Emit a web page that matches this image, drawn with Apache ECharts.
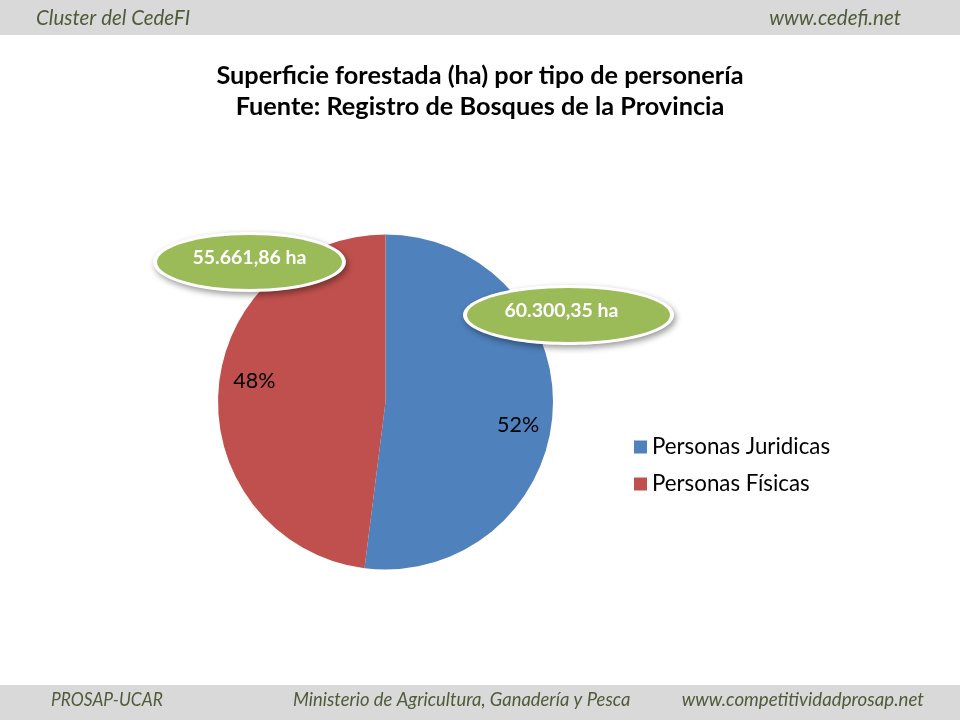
<!DOCTYPE html>
<html>
<head>
<meta charset="utf-8">
<style>html,body{margin:0;padding:0;background:#fff}#c{width:960px;height:720px}</style>
<script src="https://cdn.jsdelivr.net/npm/echarts@6/dist/echarts.min.js"></script>
</head>
<body>
<div id="c"></div>
<script>
const categories = ['Personas Juridicas', 'Personas Físicas'];
const hectares = [60300.35, 55661.86];
const hectareLabels = ['60.300,35 ha', '55.661,86 ha'];
const colors = ['#4F81BD', '#C0504D'];
const titleLines = ['Superficie forestada (ha) por tipo de personería', 'Fuente: Registro de Bosques de la Provincia'];
const headerLeft = 'Cluster del CedeFI', headerRight = 'www.cedefi.net';
const footerTexts = ['PROSAP-UCAR', 'Ministerio de Agricultura, Ganadería y Pesca', 'www.competitividadprosap.net'];

const font = 'Lato';
const chrome = '#4F5B3A';
function bar(y, h) {
  return {type:'rect', z:0, silent:true, shape:{x:0,y:y,width:960,height:h}, style:{fill:'#D9D9D9'}};
}
function note(x, y, text, align, size, scaleX) {
  return {type:'text', z:5, silent:true, x:x, y:y, scaleX:scaleX||1,
    style:{text:text, fill:chrome, font:'italic '+size+'px '+font, textAlign:align, textVerticalAlign:'middle'}};
}
function bubble(cx, cy, rx, ry, tx, ty, text) {
  return {type:'group', z:20, silent:true, children:[
    {type:'ellipse', z:20, shape:{cx:cx,cy:cy,rx:rx+4,ry:ry+3},
     style:{fill:'#fff', shadowBlur:6, shadowColor:'rgba(0,0,0,0.4)', shadowOffsetX:2, shadowOffsetY:3}},
    {type:'ellipse', z:21, shape:{cx:cx,cy:cy,rx:rx,ry:ry}, style:{fill:'#9BBB59'}},
    {type:'text', z:22, x:tx, y:ty, style:{text:text, fill:'#fff', font:'bold 19.5px '+font, textAlign:'center', textVerticalAlign:'middle'}}
  ]};
}
const chart = echarts.init(document.getElementById('c'), null, {renderer:'canvas'});
chart.setOption({
  animation:false,
  backgroundColor:'#fff',
  color:colors,
  title:{
    text:titleLines.join('\n'), left:475, top:55, textAlign:'center',
    textStyle:{fontFamily:font, fontWeight:'bold', fontSize:25.3, lineHeight:31, color:'#000'}
  },
  legend:{
    orient:'vertical', left:629, top:430, itemWidth:13, itemHeight:13, itemGap:13,
    icon:'rect', data:categories,
    textStyle:{fontFamily:font, fontSize:22.3, color:'#000', lineHeight:24}
  },
  series:[{
    type:'pie', center:[385.5,402], radius:[0,167.5], startAngle:90, clockwise:true,
    silent:true,
    data:categories.map((n,i)=>({name:n,value:hectares[i]})),
    label:{show:true, position:'inside', fontFamily:font, fontSize:21.5, color:'#000',
      formatter:p=>Math.round(p.percent)+'%'},
    labelLine:{show:false},
    labelLayout:p=>p.dataIndex===0?{dx:46,dy:18}:{dx:-44.5,dy:-15}
  }],
  graphic:[
    bar(0,35), bar(685,35),
    note(36,18,headerLeft,'left',20.5),
    note(901,18,headerRight,'right',20.5),
    note(51,700,footerTexts[0],'left',20,0.87),
    note(293,700,footerTexts[1],'left',20,0.92),
    note(924,700,footerTexts[2],'right',20,0.935),
    bubble(568.5,315,101.5,27,561.5,311,hectareLabels[0]),
    bubble(249.5,262,92.5,27,249.5,258,hectareLabels[1])
  ]
});
</script>
</body>
</html>
